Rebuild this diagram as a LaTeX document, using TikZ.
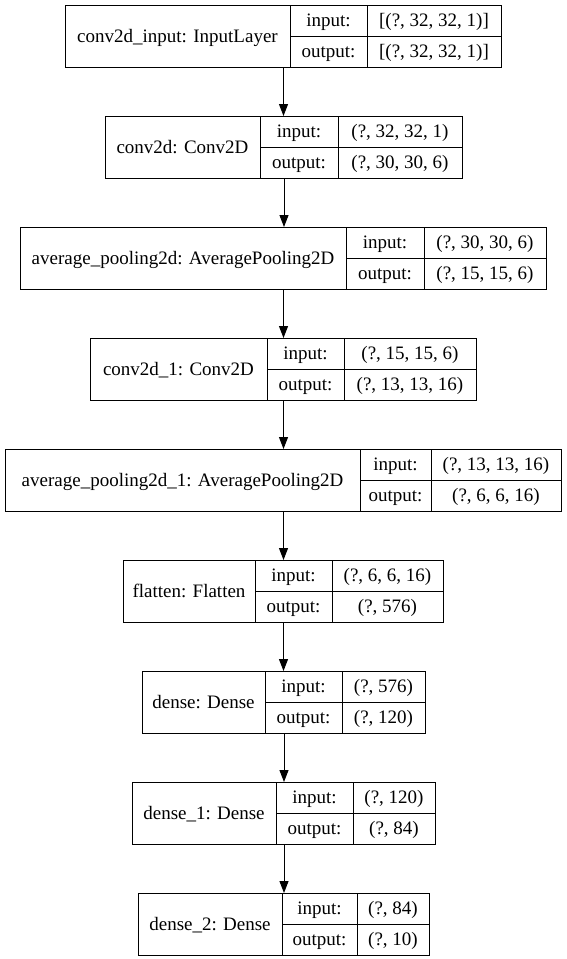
\documentclass[tikz,border=0pt]{standalone}
\usepackage{fontspec}
\setmainfont{Liberation Serif}
\usetikzlibrary{arrows.meta}
\tikzset{
  box/.style={draw=black,line width=1pt,inner sep=0pt,rectangle},
  cell/.style={draw=black,line width=1pt},
  txt/.style={inner sep=0pt,anchor=base,font=\fontsize{19}{22}\selectfont},
  flow/.style={draw=black,line width=1pt,-{Triangle[length=12pt,width=9pt]}}
}
% #1 name, #2 x1, #3 d1, #4 d2, #5 x2, #6 ytop, #7 label, #8 in, #9 out
\newcommand\klayer[9]{%
  \node[box,anchor=north west,minimum width={(#5-#2)*1pt},minimum height=62pt] (#1) at (#2,#6) {};
  \draw[cell] (#3,#6) -- (#3,{#6+62});
  \draw[cell] (#4,#6) -- (#4,{#6+62});
  \draw[cell] (#3,{#6+31}) -- (#5,{#6+31});
  \node[txt] (#1-l) at ({(#2+#3)/2},{#6+31+6}) {#7};
  \node[txt] (#1-ik) at ({(#3+#4)/2},{#6+15.5+5.5}) {input:};
  \node[txt] (#1-ok) at ({(#3+#4)/2},{#6+46.5+5.5}) {output:};
  \node[txt] (#1-iv) at ({(#4+#5)/2},{#6+15.5+5.5}) {#8};
  \node[txt] (#1-ov) at ({(#4+#5)/2},{#6+46.5+5.5}) {#9};
}
\begin{document}
\begin{tikzpicture}[x=1pt,y=-1pt]
\useasboundingbox[fill=white] (0,0) rectangle (567,959);
\klayer{L1}{65}{290}{367}{501}{5}{conv2d\_input: InputLayer}{[(?, 32, 32, 1)]}{[(?, 32, 32, 1)]}
\klayer{L2}{105}{260}{338}{462}{116}{conv2d: Conv2D}{(?, 32, 32, 1)}{(?, 30, 30, 6)}
\klayer{L3}{20}{346}{424}{546}{227}{average\_pooling2d: AveragePooling2D}{(?, 30, 30, 6)}{(?, 15, 15, 6)}
\klayer{L4}{90}{267}{344}{476}{338}{conv2d\_1: Conv2D}{(?, 15, 15, 6)}{(?, 13, 13, 16)}
\klayer{L5}{5}{360}{431}{561}{449}{average\_pooling2d\_1: AveragePooling2D}{(?, 13, 13, 16)}{(?, 6, 6, 16)}
\klayer{L6}{123}{255}{332}{443}{560}{flatten: Flatten}{(?, 6, 6, 16)}{(?, 576)}
\klayer{L7}{142}{265}{342}{425}{671}{dense: Dense}{(?, 576)}{(?, 120)}
\klayer{L8}{132}{276}{353}{435}{782}{dense\_1: Dense}{(?, 120)}{(?, 84)}
\klayer{L9}{138}{282}{357}{429}{893}{dense\_2: Dense}{(?, 84)}{(?, 10)}
\foreach \a/\b in {L1/L2,L2/L3,L3/L4,L4/L5,L5/L6,L6/L7,L7/L8,L8/L9}
  \draw[flow] (\a.south) -- (\a.south |- \b.north);
\end{tikzpicture}
\end{document}
